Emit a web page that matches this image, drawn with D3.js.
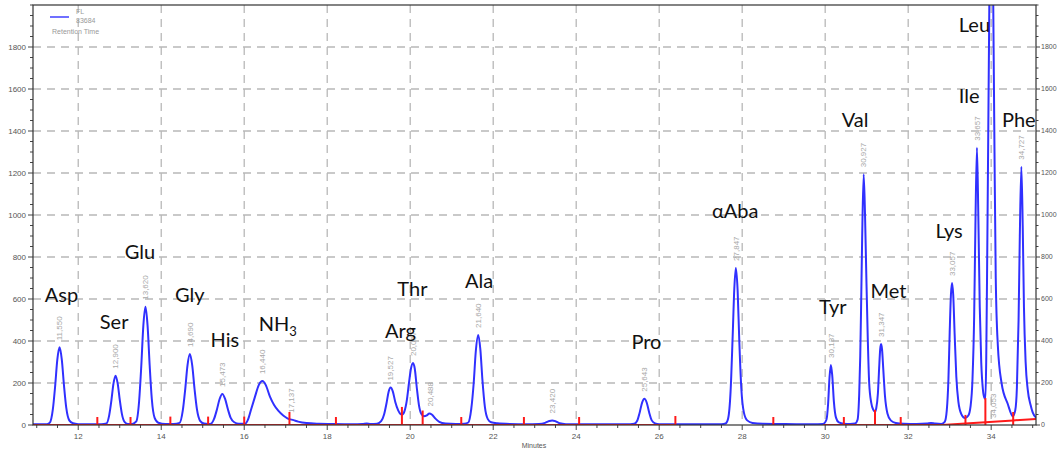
<!DOCTYPE html>
<html><head><meta charset="utf-8">
<script src="https://cdn.jsdelivr.net/npm/d3@7"></script>
<style>body{margin:0;background:#fff}svg{display:block}</style>
</head><body><svg id="c" width="1057" height="450"></svg>
<script>
// ---- data ----
const signal = [
[10.91,3],[11.10,3],[11.25,4],
[11.316,11],[11.388,74],[11.442,181],[11.496,311],[11.55,370],[11.604,311],[11.658,185],[11.712,81],[11.784,22],[11.874,8],[12.0,4],[12.3,3],[12.55,4],
[12.679,7],[12.747,47],[12.798,115],[12.849,197],[12.90,235],[12.951,197],[13.002,118],[13.053,52],[13.121,14],[13.2,5],[13.3,5],
[13.399,17],[13.467,113],[13.518,276],[13.569,473],[13.62,563],[13.671,473],[13.722,282],[13.773,124],[13.841,34],[13.93,11],[14.1,5],[14.3,5],
[14.443,10],[14.519,68],[14.576,166],[14.633,284],[14.69,338],[14.747,284],[14.804,169],[14.861,74],[14.937,20],[15.03,7],[15.13,5],
[15.2,6],[15.275,30],[15.341,73],[15.407,124],[15.473,148],[15.539,124],[15.605,76],[15.671,35],[15.76,13],[15.87,6],[16.02,6],
[16.10,30],[16.16,70],[16.26,135],[16.35,190],[16.44,209],[16.52,190],[16.62,135],[16.72,95],[16.82,68],[16.94,45],[17.04,32],[17.19,23],[17.3,16],[17.5,9],[17.8,6],[18.1,5],[18.6,4],[18.85,5],[18.95,7],[19.05,5],[19.2,6],
[19.3,18],[19.37,50],[19.43,105],[19.48,158],[19.527,178],[19.58,160],[19.64,110],[19.71,70],[19.77,52],[19.81,50],
[19.86,65],[19.92,120],[19.97,200],[20.02,270],[20.067,295],[20.11,268],[20.16,175],[20.21,95],[20.27,52],[20.33,42],
[20.40,46],[20.46,55],[20.52,50],[20.6,32],[20.7,15],[20.85,7],[21.1,5],[21.3,6],
[21.40,12],[21.47,75],[21.53,200],[21.58,350],[21.64,429],[21.69,360],[21.74,215],[21.80,85],[21.87,28],[21.95,13],[22.1,8],[22.4,5],[22.8,4],[23.1,5],
[23.25,10],[23.35,19],[23.42,22],[23.5,18],[23.6,8],[23.75,4],[24.2,3],[24.8,3],[25.3,4],
[25.40,6],[25.47,20],[25.53,60],[25.59,108],[25.643,125],[25.70,106],[25.76,58],[25.82,22],[25.90,8],[26.0,4],[26.4,3],[27.0,3],[27.5,4],
[27.60,7],[27.66,30],[27.72,160],[27.77,420],[27.81,650],[27.847,748],[27.89,640],[27.93,400],[27.98,170],[28.04,60],[28.12,22],[28.25,10],[28.5,6],[28.9,5],[29.3,4],[29.7,4],[29.95,5],
[30.03,25],[30.07,100],[30.105,230],[30.137,286],[30.17,235],[30.21,110],[30.26,35],[30.33,12],[30.45,6],[30.6,5],[30.72,7],
[30.78,25],[30.82,150],[30.845,330],[30.865,560],[30.89,880],[30.927,1194],[30.96,1000],[30.99,720],[31.025,420],[31.06,200],[31.11,105],[31.16,72],[31.2,64],
[31.23,80],[31.27,150],[31.30,270],[31.325,360],[31.347,386],[31.37,360],[31.40,265],[31.44,140],[31.50,55],[31.58,22],[31.7,10],[31.9,6],[32.2,5],[32.45,7],[32.55,10],[32.65,7],[32.8,5],
[32.88,15],[32.93,70],[32.97,220],[33.0,440],[33.03,620],[33.057,676],[33.085,620],[33.12,430],[33.16,230],[33.21,110],[33.28,52],[33.37,33],
[33.45,45],[33.50,85],[33.55,220],[33.59,520],[33.62,950],[33.657,1320],[33.69,1000],[33.725,560],[33.76,300],[33.80,170],[33.84,128],[33.86,124],
[33.88,300],[33.90,700],[33.93,1400],[33.955,2000],[33.98,2600],[34.0,2800],[34.025,2600],[34.05,2000],[34.08,1300],[34.11,700],[34.16,380],[34.25,200],[34.4,100],[34.52,42],
[34.58,70],[34.62,180],[34.66,500],[34.69,900],[34.727,1230],[34.76,950],[34.79,560],[34.83,300],[34.88,170],[34.95,95],[35.0,60],[35.08,35]
];
const baselineA = [[10.91,0],[26.39,0]];
const baselineB = [[29.95,0],[32.82,0],[33.38,7],[33.86,13],[34.53,22],[35.08,28]];
const markTimes = [12.46,13.26,14.22,15.13,16.0,17.09,18.21,19.80,20.30,21.23,22.74,24.07,26.39,28.75,30.45,31.20,31.82,33.38,33.86,34.53];
const markTops  = [38,38,40,40,40,62,38,86,69,38,38,38,43,38,38,72,38,48,128,62];
const rtTimes   = [11.550,12.900,13.620,14.690,15.473,16.440,17.137,19.527,20.067,20.488,21.640,23.420,25.643,27.847,30.137,30.927,31.347,33.057,33.657,34.053,34.727];
const rtLabels  = ["11,550","12,900","13,620","14,690","15,473","16,440","17,137","19,527","20,067","20,488","21,640","23,420","25,643","27,847","30,137","30,927","31,347","33,057","33,657","34,053","34,727"];
const rtAnchors = [370,235,563,338,148,209,25,178,295,55,429,22,125,748,286,1194,386,676,1320,0,1230];
const names      = ["Asp","Ser","Glu","Gly","His","NH","Arg","Thr","Ala","Pro","αAba","Tyr","Val","Met","Lys","Ile","Leu","Phe"];
const nameSubs   = ["","","","","","3","","","","","","","","","","","",""];
const nameTimes  = [11.195,12.52,13.12,14.33,15.19,16.35,19.39,19.69,21.32,25.33,27.27,29.85,30.40,31.09,32.66,33.22,33.22,34.26];
const nameValues = [586,457,790,586,371,448,414,614,652,362,986,529,1419,605,890,1533,1871,1419];
const xTicks = [12,14,16,18,20,22,24,26,28,30,32,34];
const yTicks = [0,200,400,600,800,1000,1200,1400,1600,1800];
const xMinor = d3.range(11,35.01,0.5);
const yMinor = d3.range(0,2001,50);

// ---- drawing ----
const L=33,R=1036,T=5,B=425;
const svg=d3.select("#c");
svg.append("rect").attr("width",1057).attr("height",450).attr("fill","#fff");
const x=d3.scaleLinear().domain([10.91,35.08]).range([L,R]);
const y=d3.scaleLinear().domain([0,2000]).range([B,T]);

svg.append("defs").append("clipPath").attr("id","clip").append("rect")
  .attr("x",L).attr("y",T).attr("width",R-L).attr("height",B-T);

// grid
const grid=svg.append("g").attr("stroke","#b8b8b8").attr("stroke-width",1.3).attr("stroke-dasharray","8,6");
grid.selectAll(".gx").data(xTicks).join("line").attr("x1",d=>x(d)).attr("x2",d=>x(d)).attr("y1",T).attr("y2",B);
grid.selectAll(".gy").data(yTicks.filter(d=>d>0)).join("line").attr("y1",d=>y(d)).attr("y2",d=>y(d)).attr("x1",L).attr("x2",R);

// axes
const axCol="#444";
const ga=svg.append("g").attr("stroke",axCol).attr("stroke-width",1);
ga.selectAll(".ml").data(yMinor).join("line").attr("x1",d=>yTicks.includes(d)?L-5:L-3).attr("x2",L).attr("y1",d=>y(d)).attr("y2",d=>y(d));
ga.selectAll(".mr").data(yMinor).join("line").attr("x1",R).attr("x2",d=>yTicks.includes(d)?R+4:R+2.5).attr("y1",d=>y(d)).attr("y2",d=>y(d));
ga.selectAll(".mb").data(xMinor).join("line").attr("x1",d=>x(d)).attr("x2",d=>x(d)).attr("y1",B).attr("y2",d=>xTicks.includes(d)?B+5:B+3);

const tf={"font-family":"Liberation Sans, Arial, sans-serif","font-size":"8px","fill":"#555"};
function sty(s,o){for(const k in o)s.attr(k,o[k]);return s;}
sty(svg.append("g").selectAll("text").data(yTicks).join("text").attr("x",L-7).attr("y",d=>y(d)).attr("dy","0.35em").attr("text-anchor","end").text(d=>d),tf);
sty(svg.append("g").selectAll("text").data(yTicks).join("text").attr("x",R+5).attr("y",d=>y(d)).attr("dy","0.35em").attr("text-anchor","start").text(d=>d),tf).attr("font-size","7px");
sty(svg.append("g").selectAll("text").data(xTicks).join("text").attr("x",d=>x(d)).attr("y",B+14).attr("text-anchor","middle").text(d=>d),tf);
sty(svg.append("text").attr("x",534).attr("y",448).attr("text-anchor","middle").text("Minutes"),tf).attr("font-size","7px");

// chromatogram
const line=d3.line().x(d=>x(d[0])).y(d=>y(d[1])).curve(d3.curveMonotoneX);
const plot=svg.append("g").attr("clip-path","url(#clip)");
plot.append("path").datum(signal).attr("d",line).attr("fill","none").attr("stroke","#3030ff").attr("stroke-width",2);
const lin=d3.line().x(d=>x(d[0])).y(d=>y(d[1]));
[baselineA,baselineB].forEach(b=>plot.append("path").datum(b).attr("d",lin).attr("fill","none").attr("stroke","#ff1a1a").attr("stroke-width",2));
plot.selectAll(".mk").data(markTimes).join("line").attr("x1",d=>x(d)).attr("x2",d=>x(d)).attr("y1",y(0)).attr("y2",(d,i)=>y(markTops[i])).attr("stroke","#ff1a1a").attr("stroke-width",2);

// frame
svg.append("rect").attr("x",L).attr("y",T).attr("width",R-L).attr("height",B-T).attr("fill","none").attr("stroke","#333").attr("stroke-width",1.2);

// retention time labels
svg.append("g").selectAll("text").data(rtTimes).join("text")
  .attr("transform",(d,i)=>`translate(${x(d)},${y(rtAnchors[i])-7}) rotate(-90)`)
  .attr("dy","0.35em").attr("text-anchor","start")
  .attr("font-family","Liberation Sans, Arial, sans-serif").attr("font-size","8px").attr("fill","#a8a8a8")
  .text((d,i)=>rtLabels[i]);

// compound names
const nm=svg.append("g").selectAll("text").data(names).join("text")
  .attr("x",(d,i)=>x(nameTimes[i])).attr("y",(d,i)=>y(nameValues[i]))
  .attr("font-family","Lato, 'Open Sans', sans-serif").attr("font-size","20px").attr("fill","#111");
nm.append("tspan").text(d=>d);
nm.append("tspan").attr("font-size","13px").attr("dy","5").text((d,i)=>nameSubs[i]);

// legend
const lg=svg.append("g");
lg.append("line").attr("x1",50).attr("x2",69).attr("y1",17).attr("y2",17).attr("stroke","#7070ff").attr("stroke-width",2);
const lf={"font-family":"Liberation Sans, Arial, sans-serif","font-size":"7px","fill":"#999"};
sty(lg.append("text").attr("x",76).attr("y",14).text("FL"),lf);
sty(lg.append("text").attr("x",76).attr("y",23).text("83684"),lf);
sty(lg.append("text").attr("x",52).attr("y",34).text("Retention Time"),lf);
</script></body></html>
